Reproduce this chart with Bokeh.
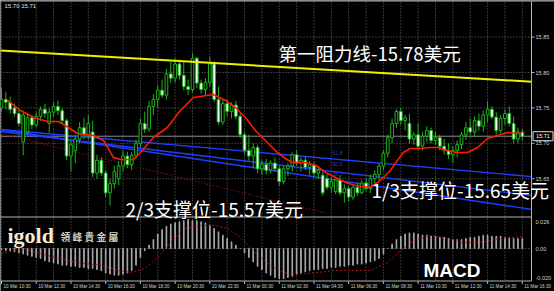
from bokeh.plotting import figure
from bokeh.models import Range1d
from bokeh.core.properties import value
from bokeh.embed import file_html
from bokeh.resources import INLINE

# ---- XAGUSD M15 candles, 10 Mar 10:30 onwards ----
opens = [15.750, 15.762, 15.758, 15.750, 15.742, 15.702, 15.716, 15.736, 15.726, 15.738,
         15.748, 15.728, 15.744, 15.752, 15.746, 15.732, 15.682, 15.690, 15.706, 15.722,
         15.712, 15.716, 15.658, 15.676, 15.658, 15.630, 15.643, 15.650, 15.668, 15.682,
         15.670, 15.683, 15.700, 15.728, 15.720, 15.752, 15.762, 15.775, 15.768, 15.798,
         15.792, 15.812, 15.796, 15.780, 15.776, 15.820, 15.785, 15.776, 15.786, 15.812,
         15.762, 15.730, 15.756, 15.745, 15.754, 15.738, 15.712, 15.690, 15.682, 15.694,
         15.664, 15.670, 15.662, 15.672, 15.664, 15.646, 15.664, 15.668, 15.684, 15.672,
         15.676, 15.666, 15.670, 15.658, 15.655, 15.650, 15.638, 15.632, 15.648, 15.630,
         15.636, 15.624, 15.638, 15.630, 15.644, 15.636, 15.650, 15.656, 15.668, 15.686,
         15.708, 15.728, 15.745, 15.732, 15.728, 15.706, 15.712, 15.696, 15.710, 15.718,
         15.704, 15.708, 15.696, 15.690, 15.684, 15.690, 15.698, 15.712, 15.722, 15.716,
         15.732, 15.724, 15.740, 15.748, 15.737, 15.718, 15.735, 15.742, 15.728, 15.706,
         15.716]
highs = [15.778, 15.772, 15.766, 15.756, 15.748, 15.746, 15.742, 15.740, 15.744, 15.752,
         15.756, 15.750, 15.758, 15.760, 15.750, 15.735, 15.704, 15.712, 15.730, 15.736,
         15.740, 15.732, 15.684, 15.680, 15.662, 15.650, 15.668, 15.675, 15.690, 15.688,
         15.688, 15.705, 15.735, 15.745, 15.760, 15.770, 15.782, 15.790, 15.805, 15.815,
         15.820, 15.818, 15.815, 15.790, 15.828, 15.822, 15.790, 15.792, 15.822, 15.816,
         15.780, 15.762, 15.762, 15.758, 15.760, 15.742, 15.716, 15.712, 15.700, 15.698,
         15.676, 15.678, 15.676, 15.680, 15.668, 15.668, 15.672, 15.687, 15.690, 15.680,
         15.682, 15.675, 15.674, 15.668, 15.660, 15.656, 15.652, 15.650, 15.654, 15.642,
         15.640, 15.642, 15.644, 15.648, 15.650, 15.656, 15.662, 15.672, 15.690, 15.712,
         15.735, 15.748, 15.750, 15.740, 15.742, 15.716, 15.728, 15.716, 15.724, 15.722,
         15.716, 15.712, 15.706, 15.700, 15.696, 15.704, 15.716, 15.730, 15.735, 15.738,
         15.742, 15.746, 15.760, 15.752, 15.744, 15.740, 15.748, 15.752, 15.738, 15.722,
         15.720]
lows = [15.745, 15.748, 15.742, 15.738, 15.724, 15.683, 15.712, 15.720, 15.722, 15.732,
        15.736, 15.715, 15.738, 15.740, 15.728, 15.676, 15.660, 15.672, 15.700, 15.706,
        15.705, 15.652, 15.650, 15.654, 15.624, 15.612, 15.636, 15.641, 15.660, 15.665,
        15.662, 15.678, 15.694, 15.715, 15.716, 15.740, 15.750, 15.764, 15.762, 15.785,
        15.786, 15.790, 15.775, 15.768, 15.772, 15.778, 15.770, 15.768, 15.780, 15.758,
        15.726, 15.726, 15.738, 15.735, 15.734, 15.708, 15.684, 15.676, 15.665, 15.658,
        15.655, 15.656, 15.658, 15.660, 15.640, 15.642, 15.654, 15.660, 15.668, 15.660,
        15.662, 15.655, 15.652, 15.650, 15.626, 15.634, 15.630, 15.628, 15.626, 15.616,
        15.618, 15.620, 15.626, 15.628, 15.632, 15.630, 15.640, 15.648, 15.662, 15.680,
        15.700, 15.722, 15.726, 15.718, 15.700, 15.698, 15.690, 15.690, 15.702, 15.700,
        15.698, 15.690, 15.684, 15.678, 15.672, 15.680, 15.692, 15.705, 15.712, 15.710,
        15.718, 15.716, 15.730, 15.734, 15.712, 15.714, 15.726, 15.724, 15.700, 15.700,
        15.704]
closes = [15.762, 15.758, 15.748, 15.742, 15.728, 15.740, 15.736, 15.726, 15.738, 15.748,
          15.742, 15.744, 15.752, 15.746, 15.732, 15.682, 15.698, 15.706, 15.722, 15.712,
          15.728, 15.658, 15.676, 15.658, 15.630, 15.643, 15.660, 15.668, 15.682, 15.670,
          15.683, 15.700, 15.728, 15.720, 15.752, 15.762, 15.775, 15.768, 15.798, 15.792,
          15.812, 15.796, 15.780, 15.776, 15.820, 15.785, 15.776, 15.786, 15.812, 15.762,
          15.730, 15.756, 15.745, 15.754, 15.738, 15.712, 15.690, 15.682, 15.694, 15.664,
          15.670, 15.662, 15.672, 15.664, 15.646, 15.664, 15.668, 15.684, 15.672, 15.676,
          15.666, 15.670, 15.658, 15.662, 15.630, 15.638, 15.646, 15.648, 15.630, 15.636,
          15.624, 15.638, 15.630, 15.644, 15.636, 15.650, 15.656, 15.668, 15.686, 15.708,
          15.728, 15.745, 15.732, 15.736, 15.706, 15.712, 15.696, 15.710, 15.718, 15.704,
          15.708, 15.696, 15.690, 15.684, 15.690, 15.698, 15.712, 15.722, 15.716, 15.732,
          15.724, 15.740, 15.748, 15.737, 15.718, 15.735, 15.742, 15.728, 15.706, 15.716,
          15.710]

# red moving average (bar index, price)
ma_bar = [1.4, 4.4, 7.4, 10.6, 13.1, 14.7, 17.5, 21.2, 23.5, 25.8, 27.4, 30.4, 32, 35, 38.2, 41.2,
          42.4, 44.2, 48.8, 51.6, 53.9, 56.2, 58.5, 60.8, 63.1, 65.4, 67, 70, 72.4, 74.7, 77, 79.3,
          81.6, 85, 87.3, 89.6, 91.2, 92.6, 94.2, 96.5, 98.8, 100.5, 102.8, 105, 107.4, 109.7, 112,
          114.3, 116.6, 118.9, 120]
ma_val = [15.7605, 15.7463, 15.7364, 15.7308, 15.7308, 15.7251, 15.7138, 15.7110, 15.7040, 15.6799,
          15.6771, 15.6771, 15.6870, 15.7082, 15.7223, 15.7463, 15.7534, 15.7647, 15.7689, 15.7605,
          15.7506, 15.7364, 15.7181, 15.7040, 15.6898, 15.6785, 15.6729, 15.6729, 15.6686, 15.6588,
          15.6517, 15.6446, 15.6404, 15.6376, 15.6475, 15.6616, 15.6757, 15.6870, 15.6927, 15.6927,
          15.6941, 15.6941, 15.6898, 15.6870, 15.6870, 15.6941, 15.7068, 15.7110, 15.7153, 15.7138,
          15.7153]

# MACD histogram (percent units) and its signal line
macd_hist = [-0.001, -0.002, -0.002, -0.003, -0.004, -0.005, -0.006, -0.007, -0.008, -0.009,
             -0.011, -0.012, -0.013, -0.014, -0.015, -0.015, -0.016, -0.016, -0.017, -0.017,
             -0.018, -0.018, -0.019, -0.020, -0.022, -0.023, -0.024, -0.024, -0.023, -0.022,
             -0.020, -0.015, -0.008, -0.002, 0.003, 0.008, 0.013, 0.017, 0.020, 0.022,
             0.023, 0.024, 0.025, 0.026, 0.025, 0.025, 0.024, 0.023, 0.021, 0.018,
             0.015, 0.012, 0.009, 0.006, 0.003, 0.000, -0.004, -0.008, -0.012, -0.016,
             -0.019, -0.022, -0.024, -0.026, -0.027, -0.027, -0.026, -0.025, -0.023, -0.022,
             -0.021, -0.020, -0.019, -0.019, -0.018, -0.018, -0.017, -0.017, -0.016, -0.016,
             -0.015, -0.015, -0.014, -0.014, -0.013, -0.012, -0.011, -0.009, -0.005, 0.000,
             0.004, 0.008, 0.011, 0.013, 0.014, 0.014, 0.013, 0.012, 0.012, 0.011,
             0.011, 0.010, 0.010, 0.009, 0.008, 0.008, 0.008, 0.009, 0.010, 0.010,
             0.011, 0.012, 0.012, 0.011, 0.011, 0.011, 0.010, 0.010, 0.009, 0.009,
             0.009]
sig_bar = [0, 3, 6, 9, 15, 19, 23, 27, 30, 33, 36, 38, 42, 46, 49, 52, 55, 58, 61, 64, 67, 70,
           73, 77, 81, 85, 89, 92, 95, 99, 103, 106, 110, 115, 120]
sig_val = [-0.0045, -0.0018, -0.0010, -0.0045, -0.0108, -0.0135, -0.0150, -0.0197, -0.0215,
           -0.0180, -0.0080, 0.0010, 0.0180, 0.0206, 0.0206, 0.0180, 0.0099, -0.0018, -0.0126,
           -0.0197, -0.0240, -0.0224, -0.0215, -0.0197, -0.0197, -0.0197, -0.0126, -0.0018,
           0.0072, 0.0117, 0.0090, 0.0054, 0.0054, 0.0090, 0.0108]

# hand-drawn objects: (bar, price) end points
resist_bar, resist_px = [-0.3, 122.2], [15.831, 15.787]
fan_bar = [-0.3, 122.2]
fan_top = [15.7195, 15.6530]
fan_mid = [15.7166, 15.6263]
fan_low = [15.7195, 15.6065]
trend_bar, trend_px = [-0.3, 75.0], [15.7138, 15.6010]
bid_price = 15.71
fan_levels = ["61.8", "50.0", "38.2"]

price_ticks = [15.85, 15.80, 15.75, 15.70, 15.65]
price_labels = ["15.85", "15.80", "15.75", "15.70", "15.65"]
time_bars = [0, 8, 16, 24, 32, 40, 48, 56, 64, 72, 80, 88, 96, 104, 112, 120]
time_labels = ["10 Mar 10:30", "10 Mar 12:30", "10 Mar 14:30", "10 Mar 16:30", "10 Mar 18:30",
               "10 Mar 20:30", "10 Mar 22:30", "11 Mar 00:30", "11 Mar 02:30", "11 Mar 04:30",
               "11 Mar 06:30", "11 Mar 08:30", "11 Mar 10:30", "11 Mar 12:30", "11 Mar 14:30",
               "11 Mar 16:30"]

# ---- page geometry ----
W, H = 554, 291
BAR_PX, X_OFF = 4.34, 1.0
PRICE_PX, REF_PRICE, REF_Y = 708.0, 15.80, 72.0
MACD_PX, MACD_ZERO_Y = 29 / 0.026, 248.0
AXIS_X, MAIN_BOTTOM, MACD_BOTTOM = 531, 216.5, 280.5


def xp(px):
    return (px - X_OFF) / BAR_PX


def yp(py):
    return REF_PRICE - (py - REF_Y) / PRICE_PX


def ym(py):
    return (MACD_ZERO_Y - py) / MACD_PX


p = figure(width=W, height=H, output_backend="svg", toolbar_location=None,
           x_range=Range1d(xp(0), xp(W)), y_range=Range1d(yp(H), yp(0)),
           x_axis_type=None, y_axis_type=None, min_border=0,
           background_fill_color="black", border_fill_color="black", outline_line_color=None)
p.extra_y_ranges = {"macd": Range1d(ym(H), ym(0))}

GRID = "#6e6e6e"
FRAME = "#b4b4b4"
GREEN = "#1db31d"

# grid
vbars = list(range(0, 121, 4))
p.segment(x0=vbars, x1=vbars, y0=[yp(2)] * len(vbars), y1=[yp(MACD_BOTTOM)] * len(vbars),
          line_color=GRID, line_dash="1 2", line_width=1)
p.segment(x0=[xp(0)] * len(price_ticks), x1=[xp(AXIS_X)] * len(price_ticks),
          y0=price_ticks, y1=price_ticks, line_color=GRID, line_dash="1 2", line_width=1)
p.segment(x0=[xp(0)], x1=[xp(AXIS_X)], y0=[0], y1=[0], y_range_name="macd",
          line_color=GRID, line_dash="1 2", line_width=1)

# bid line
p.segment(x0=[xp(0)], x1=[xp(AXIS_X)], y0=[bid_price], y1=[bid_price], line_color="#8c8c8c", line_width=1)

# fan lines and trend line
for fan in (fan_top, fan_mid, fan_low):
    p.line(fan_bar, fan, line_color="#1f3fff", line_width=1.4)
p.line(trend_bar, trend_px, line_color="#a01010", line_dash="1 2", line_width=1.2)
p.text(x=[xp(332)] * 3, y=[yp(152), yp(163), yp(173)], text=fan_levels,
       text_font=value("Liberation Sans"), text_font_size="5px", text_color="#2a3cc8",
       text_baseline="middle")

# candles
idx = list(range(len(closes)))
p.segment(x0=idx, x1=idx, y0=lows, y1=highs, line_color=GREEN, line_width=1)
tops = [max(o, c) for o, c in zip(opens, closes)]
bots = [min(o, c) for o, c in zip(opens, closes)]
fills = ["#f4fff4" if o > c else "black" for o, c in zip(opens, closes)]
p.vbar(x=idx, width=0.62, top=tops, bottom=bots, fill_color=fills, line_color=GREEN, line_width=1)

# moving average
p.line(ma_bar, ma_val, line_color="#ff1a00", line_width=1.6)

# resistance line
p.line(resist_bar, resist_px, line_color="#f0f000", line_width=2)

# MACD
p.vbar(x=idx, width=0.15, top=macd_hist, bottom=0, y_range_name="macd",
       fill_color="#a8a8a8", line_color="#a8a8a8", line_width=1)
p.line(sig_bar, sig_val, y_range_name="macd", line_color="#b01010", line_dash="2 2", line_width=1)

# frame lines
p.segment(x0=[xp(0), xp(0), xp(0), xp(AXIS_X)], x1=[xp(W), xp(AXIS_X), xp(AXIS_X), xp(AXIS_X)],
          y0=[yp(0.5), yp(MAIN_BOTTOM), yp(MACD_BOTTOM), yp(0.5)],
          y1=[yp(0.5), yp(MAIN_BOTTOM), yp(MACD_BOTTOM), yp(MACD_BOTTOM)],
          line_color=FRAME, line_width=1)

# axis labels
SMALL = value("Liberation Sans Narrow, Liberation Sans")
p.text(x=[xp(AXIS_X + 4)] * len(price_ticks), y=price_ticks, text=price_labels,
       text_font=SMALL, text_font_size="5.5px", text_color="#d0d0d0", text_baseline="middle")
p.segment(x0=[xp(AXIS_X)] * len(price_ticks), x1=[xp(AXIS_X + 3)] * len(price_ticks),
          y0=price_ticks, y1=price_ticks, line_color=FRAME)
p.text(x=[xp(AXIS_X + 4)] * 3, y=[ym(221), ym(248), ym(277)], y_range_name="macd",
       text=["0.026", "0.00", "-0.020"], text_font=SMALL, text_font_size="5.5px",
       text_color="#d0d0d0", text_baseline="middle")
p.text(x=[b + xp(2) - xp(0) for b in time_bars], y=[yp(286)] * len(time_bars), text=time_labels,
       text_font=SMALL, text_font_size="4.6px", text_color="#d0d0d0", text_baseline="middle")
p.segment(x0=time_bars, x1=time_bars, y0=[yp(MACD_BOTTOM)] * 16, y1=[yp(MACD_BOTTOM + 3)] * 16,
          line_color=FRAME)

# bid label
p.rect(x=[xp(542.5)], y=[bid_price], width=xp(20) - xp(0), height=9 / PRICE_PX,
       fill_color="black", line_color="#e0e0e0", line_width=1)
p.text(x=[xp(542.5)], y=[bid_price], text=["15.71"], text_font=SMALL, text_font_size="5.5px",
       text_color="white", text_align="center", text_baseline="middle")

# header quote
p.text(x=[xp(4)], y=[yp(5)], text=["15.70 15.71"], text_font=SMALL,
       text_font_size="6px", text_color="#e0e0e0", text_baseline="middle")

# annotations
CJK = value("Noto Sans CJK SC")
p.text(x=[xp(278)], y=[yp(52)], text=["第一阻力线-15.78美元"],
       text_font=CJK, text_font_size="18.5px", text_color="white", text_baseline="middle")
p.text(x=[xp(125), xp(371)], y=[yp(208), yp(189)],
       text=["2/3支撑位-15.57美元", "1/3支撑位-15.65美元"],
       text_font=CJK, text_font_size="19px", text_color="white", text_baseline="middle")
p.text(x=[xp(423)], y=[yp(270)], text=["MACD"], text_font=value("Liberation Sans"),
       text_font_size="19px", text_font_style="bold", text_color="white", text_baseline="middle")

# logo
p.text(x=[xp(7)], y=[yp(235)], text=["igold"], text_font=value("Liberation Serif"),
       text_font_size="22px", text_font_style="bold", text_color="#f3ecdc", text_baseline="middle")
p.text(x=[xp(60)], y=[yp(236)], text=["領 峰 貴 金 屬"], text_font=value("Noto Sans CJK TC"),
       text_font_size="9.8px", text_font_style="bold", text_color="#d6cfc0", text_baseline="middle")

open("out.html", "w").write(file_html(p, INLINE))
